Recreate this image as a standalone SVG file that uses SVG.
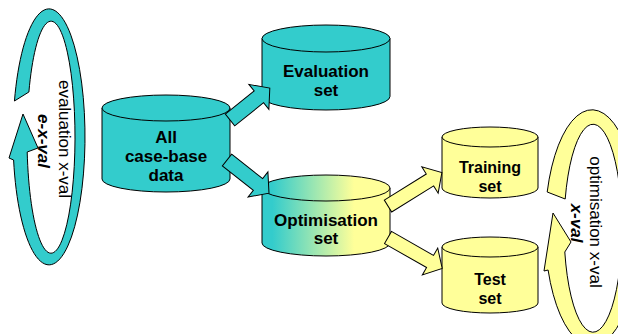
<svg xmlns="http://www.w3.org/2000/svg" width="618" height="334" viewBox="0 0 618 334">
<style>
.teal{fill:#33CCCC;stroke:#000;stroke-width:1}
.yel{fill:#FFFF99;stroke:#000;stroke-width:1}
.grad{fill:url(#og);stroke:#000;stroke-width:1}
.lbl{font-family:"Liberation Sans",Arial,sans-serif;font-weight:bold;font-size:17px;text-anchor:middle;fill:#000}
.lbl16{font-size:16px}
.ring{font-family:"Liberation Sans",Arial,sans-serif;font-size:17px;text-anchor:middle;fill:#000}
.bi{font-weight:bold;font-style:italic}
</style>
<defs>
<linearGradient id="og" gradientUnits="userSpaceOnUse" x1="262" y1="0" x2="390" y2="0">
<stop offset="0" stop-color="#33CCCC"/>
<stop offset="0.08" stop-color="#33CCCC"/>
<stop offset="0.72" stop-color="#FFFF99"/>
<stop offset="1" stop-color="#FFFF99"/>
</linearGradient>
</defs>
<g id="eval-xval">
<path class="teal" d="M14.45,101 A36 128 0 1 1 13.6,160 L9,158 L23,114 L38,148 L27.2,152 A24 116 0 1 0 28.9,92 Z"/>
<text class="ring" transform="translate(59,139) rotate(90)">evaluation x-val</text>
<text class="ring bi" transform="translate(38,141) rotate(90)">e-x-val</text>
</g>
<g id="opt-xval">
<path class="yel" d="M547.2,192 A47 118 0 1 1 548.1,270 L544,271 L553,213 L571,242 L564.8,252 A29 104 0 1 0 565.2,199 Z"/>
<text class="ring" transform="translate(590,222) rotate(90)">optimisation x-val</text>
<text class="ring bi" transform="translate(571,223) rotate(90)">x-val</text>
</g>
<g id="all-data">
<path class="teal" d="M102,108 V179 A64 13 0 0 0 230,179 V108 Z"/>
<ellipse class="teal" cx="166" cy="108" rx="64" ry="13"/>
<text class="lbl" x="166" y="142.5">All</text>
<text class="lbl" x="166" y="161.5">case-base</text>
<text class="lbl" x="166" y="180.5">data</text>
</g>
<g id="evaluation-set">
<path class="teal" d="M262,38.5 V96.5 A64 13.5 0 0 0 390,96.5 V38.5 Z"/>
<ellipse class="teal" cx="326" cy="38.5" rx="64" ry="13.5"/>
<text class="lbl" x="326" y="77">Evaluation</text>
<text class="lbl" x="326" y="95.5">set</text>
</g>
<g id="optimisation-set">
<path class="grad" d="M262,188 V243 A64 13 0 0 0 390,243 V188 Z"/>
<ellipse class="grad" cx="326" cy="188" rx="64" ry="13"/>
<text class="lbl" x="326" y="226">Optimisation</text>
<text class="lbl" x="326" y="244">set</text>
</g>
<g id="training-set">
<path class="yel" d="M442,137 V188 A48 10 0 0 0 538,188 V137 Z"/>
<ellipse class="yel" cx="490" cy="137" rx="48" ry="10"/>
<text class="lbl lbl16" x="490" y="173">Training</text>
<text class="lbl lbl16" x="490" y="192">set</text>
</g>
<g id="test-set">
<path class="yel" d="M442,247 V303 A48 10 0 0 0 538,303 V247 Z"/>
<ellipse class="yel" cx="490" cy="247" rx="48" ry="10"/>
<text class="lbl lbl16" x="490" y="285">Test</text>
<text class="lbl lbl16" x="490" y="303.5">set</text>
</g>
<g id="connectors">
<polygon class="teal" transform="translate(230,120) rotate(-38.7)" points="0,-7.5 37,-7.5 37,-16 51,0 37,16 37,7.5 0,7.5"/>
<polygon class="teal" transform="translate(227,160) rotate(38.3)" points="0,-7.5 39.5,-7.5 39.5,-16 53.5,0 39.5,16 39.5,7.5 0,7.5"/>
<polygon class="yel" transform="translate(388,206) rotate(-31.8)" points="0,-7 49.4,-7 49.4,-15.5 63.4,0 49.4,15.5 49.4,7 0,7"/>
<polygon class="yel" transform="translate(388,237.5) rotate(29.7)" points="0,-7 48.4,-7 48.4,-15.5 62.4,0 48.4,15.5 48.4,7 0,7"/>
</g>
</svg>
